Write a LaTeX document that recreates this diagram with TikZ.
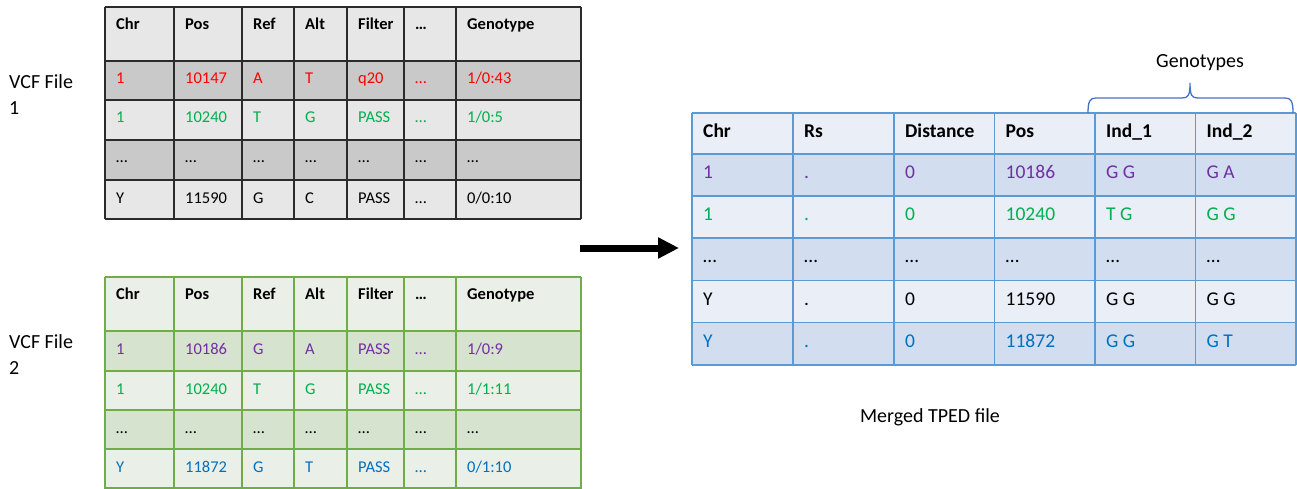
\documentclass[tikz,border=0pt]{standalone}
\usepackage{fontspec}
\setmainfont{Carlito}
\usetikzlibrary{arrows.meta}
\definecolor{cred}{HTML}{FF0000}
\definecolor{cgreen}{HTML}{00B050}
\definecolor{cpurple}{HTML}{7030A0}
\definecolor{cblue}{HTML}{0070C0}
\definecolor{aline}{HTML}{2B2B2B}
\definecolor{alight}{HTML}{E7E7E7}
\definecolor{adark}{HTML}{C9C9C9}
\definecolor{bline}{HTML}{70AD47}
\definecolor{blight}{HTML}{EAF0E7}
\definecolor{bdark}{HTML}{D6E3CF}
\definecolor{cline}{HTML}{5B9BD5}
\definecolor{clight}{HTML}{E9EEF7}
\definecolor{cdark}{HTML}{D2DEEF}
\definecolor{bracecol}{HTML}{4472C4}
\newcommand\mycellrow[6]{%
  \foreach \ctext [count=\cc] in {#6}{%
    \pgfmathsetmacro\xx{{#5}[\cc-1]}%
    \node[#4, name=#1-#2-\cc] at (\xx,#3) {\ctext};}}
\newcommand\rowAB[5]{\mycellrow{#1}{#2}{#3}{#4}{116,185,253,305,358,415,467}{#5}}
\newcommand\rowC[5]{\mycellrow{#1}{#2}{#3}{#4}{703,804,905,1005.5,1106,1206.5}{#5}}
\tikzset{
  cellA/.style={anchor=base west, inner sep=0pt, font=\fontsize{16.5}{19}\selectfont},
  hdA/.style={cellA, font=\fontsize{16.5}{19}\selectfont\bfseries},
  cellC/.style={anchor=base west, inner sep=0pt, font=\fontsize{19.5}{22}\selectfont},
  hdC/.style={cellC, font=\fontsize{19.5}{22}\selectfont\bfseries},
  lbl/.style={inner sep=0pt, font=\fontsize{20}{26}\selectfont},
  gridA/.style={draw=aline, line width=1.5pt},
  gridB/.style={draw=bline, line width=1.8pt},
  gridC/.style={draw=cline, line width=1.6pt},
  bracestyle/.style={draw=bracecol, line width=1.3pt},
  bigarrow/.style={draw=black, line width=7pt, -{Triangle[length=21pt,width=20pt]}},
}
\begin{document}
\begin{tikzpicture}[x=1pt,y=-1pt]
\useasboundingbox (0,0) rectangle (1297,489);

% ---------- Table 1 ----------
\fill[alight] (105,7) rectangle (581,61);
\fill[adark]  (105,61) rectangle (581,100);
\fill[alight] (105,100) rectangle (581,140);
\fill[adark]  (105,140) rectangle (581,180);
\fill[alight] (105,180) rectangle (581,219);
\foreach \x in {105,174,242,294,347,404,456,581} \draw[gridA] (\x,7) -- (\x,219);
\foreach \y in {7,61,100,140,180,219} \draw[gridA] (105,\y) -- (581,\y);
\rowAB{ta}{0}{30}{hdA}{Chr,Pos,Ref,Alt,Filter,…,Genotype}
\rowAB{ta}{1}{84}{cellA,text=cred}{1,10147,A,T,q20,…,1/0:43}
\rowAB{ta}{2}{123}{cellA,text=cgreen}{1,10240,T,G,PASS,…,1/0:5}
\rowAB{ta}{3}{163}{cellA}{…,…,…,…,…,…,…}
\rowAB{ta}{4}{203}{cellA}{Y,11590,G,C,PASS,…,0/0:10}
\node[lbl, align=left, anchor=west] (vcf1) at (9,94.5) {VCF File\\1};

% ---------- Table 2 ----------
\fill[blight] (105,277) rectangle (581,331);
\fill[bdark]  (105,331) rectangle (581,371);
\fill[blight] (105,371) rectangle (581,410);
\fill[bdark]  (105,410) rectangle (581,449);
\fill[blight] (105,449) rectangle (581,489);
\foreach \x in {105,174,242,294,347,404,456,581} \draw[gridB] (\x,277) -- (\x,489);
\foreach \y in {277,331,371,410,449,488} \draw[gridB] (105,\y) -- (581,\y);
\rowAB{tb}{0}{299}{hdA}{Chr,Pos,Ref,Alt,Filter,…,Genotype}
\rowAB{tb}{1}{354}{cellA,text=cpurple}{1,10186,G,A,PASS,…,1/0:9}
\rowAB{tb}{2}{394}{cellA,text=cgreen}{1,10240,T,G,PASS,…,1/1:11}
\rowAB{tb}{3}{433}{cellA}{…,…,…,…,…,…,…}
\rowAB{tb}{4}{472}{cellA,text=cblue}{Y,11872,G,T,PASS,…,0/1:10}
\node[lbl, align=left, anchor=west] (vcf2) at (9,355) {VCF File\\2};

% ---------- Table 3 ----------
\fill[clight] (692,113) rectangle (1296,154);
\fill[cdark]  (692,154) rectangle (1296,196);
\fill[clight] (692,196) rectangle (1296,238);
\fill[cdark]  (692,238) rectangle (1296,280.5);
\fill[clight] (692,280.5) rectangle (1296,322.5);
\fill[cdark]  (692,322.5) rectangle (1296,365);
\foreach \x in {692,793,894,994.5,1095,1195.5,1296} \draw[gridC] (\x,113) -- (\x,365);
\foreach \y in {113,154,196,238,280.5,322.5,365} \draw[gridC] (692,\y) -- (1296,\y);
\rowC{tc}{0}{137.5}{hdC}{Chr,Rs,Distance,Pos,Ind\_1,Ind\_2}
\rowC{tc}{1}{178.5}{cellC,text=cpurple}{1,.,0,10186,G G,G A}
\rowC{tc}{2}{220.5}{cellC,text=cgreen}{1,.,0,10240,T G,G G}
\rowC{tc}{3}{262.5}{cellC}{…,…,…,…,…,…}
\rowC{tc}{4}{305}{cellC}{Y,.,0,11590,G G,G G}
\rowC{tc}{5}{347}{cellC,text=cblue}{Y,.,0,11872,G G,G T}

% brace and labels
\coordinate (brL) at (1088,113);
\coordinate (brT) at (1190,83);
\coordinate (brR) at (1293,113);
\draw[bracestyle] (brL) .. controls (1088,101) and (1090,98) .. (1096,98) -- (1182,98)
  .. controls (1188,98) and (1190,96) .. (brT)
  .. controls (1190,96) and (1192,98) .. (1198,98) -- (1285,98)
  .. controls (1291,98) and (1293,101) .. (brR);
\node[lbl, anchor=base] (geno) at (1200,68) {Genotypes};
\node[lbl, anchor=base] (merged) at (930,422) {Merged TPED file};

% arrow
\coordinate (arrS) at (580,248);
\coordinate (arrE) at (679,248);
\draw[bigarrow] (arrS) -- (arrE);
\end{tikzpicture}
\end{document}
